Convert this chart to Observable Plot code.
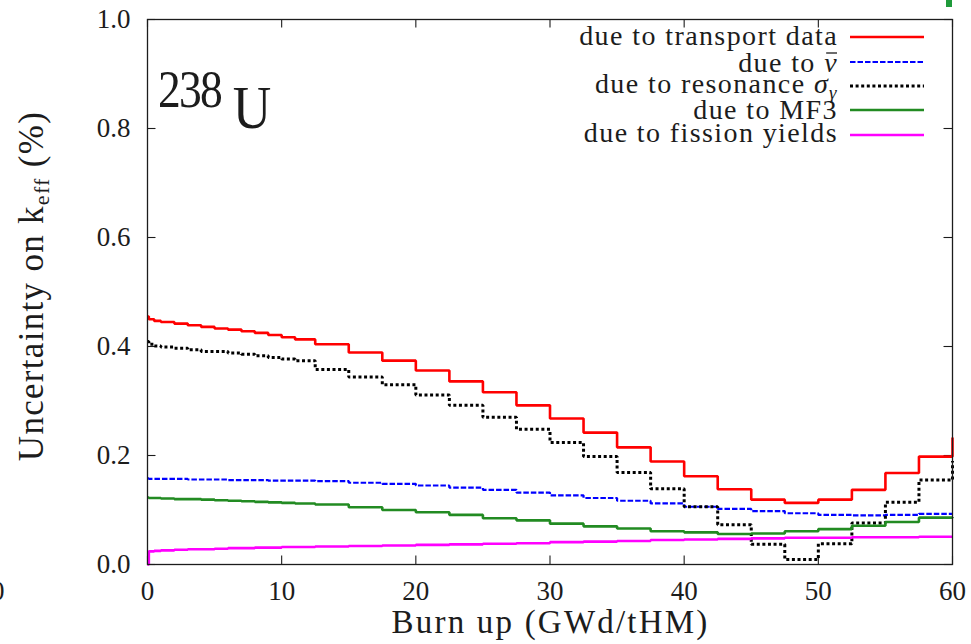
<!DOCTYPE html>
<html>
<head>
<meta charset="utf-8">
<script src="https://cdn.jsdelivr.net/npm/d3@7"></script>
<script src="https://cdn.jsdelivr.net/npm/@observablehq/plot@0.6"></script>
<style>
  body { margin: 0; background: #fff; }
  #chart { width: 971px; height: 644px; overflow: hidden; }
</style>
</head>
<body>
<div id="chart"></div>
<script>
// Burn-up grid (GWd/tHM) and k_eff uncertainty (%) per contribution, 238U
const burnup = [0, 0.1, 0.5, 1, 2, 3, 4, 5, 6, 7, 8, 9, 10, 11, 12.5, 15, 17.5, 20, 22.5, 25, 27.5, 30, 32.5, 35, 37.5, 40, 42.5, 45, 47.5, 50, 52.5, 55, 57.5, 60];

const transportData = [0.455, 0.450, 0.447, 0.445, 0.442, 0.439, 0.436, 0.433, 0.431, 0.428, 0.425, 0.421, 0.417, 0.413, 0.404, 0.389, 0.374, 0.356, 0.336, 0.316, 0.292, 0.268, 0.242, 0.215, 0.189, 0.162, 0.138, 0.119, 0.113, 0.119, 0.137, 0.168, 0.198, 0.233];
const nuBar = [0.158, 0.157, 0.157, 0.157, 0.157, 0.156, 0.156, 0.156, 0.155, 0.155, 0.155, 0.154, 0.154, 0.154, 0.153, 0.150, 0.148, 0.145, 0.141, 0.137, 0.132, 0.127, 0.122, 0.117, 0.112, 0.106, 0.102, 0.098, 0.094, 0.091, 0.090, 0.091, 0.093, 0.093];
const resonanceCapture = [0.409, 0.404, 0.401, 0.399, 0.397, 0.394, 0.391, 0.391, 0.388, 0.386, 0.383, 0.380, 0.377, 0.374, 0.358, 0.344, 0.330, 0.311, 0.292, 0.270, 0.248, 0.224, 0.198, 0.169, 0.139, 0.106, 0.073, 0.037, 0.009, 0.038, 0.076, 0.114, 0.155, 0.190];
const mf3 = [0.123, 0.122, 0.122, 0.121, 0.120, 0.120, 0.119, 0.118, 0.117, 0.116, 0.115, 0.114, 0.113, 0.112, 0.110, 0.105, 0.100, 0.096, 0.091, 0.085, 0.081, 0.075, 0.070, 0.066, 0.061, 0.059, 0.056, 0.057, 0.061, 0.065, 0.071, 0.078, 0.086, 0.087];
const fissionYields = [0.0, 0.024, 0.025, 0.026, 0.027, 0.028, 0.028, 0.029, 0.030, 0.030, 0.031, 0.031, 0.032, 0.032, 0.033, 0.034, 0.035, 0.036, 0.037, 0.038, 0.039, 0.041, 0.042, 0.043, 0.045, 0.046, 0.047, 0.048, 0.049, 0.049, 0.050, 0.050, 0.051, 0.051];

const xTicks = [0, 10, 20, 30, 40, 50, 60];
const yTicks = [0, 0.2, 0.4, 0.6, 0.8, 1.0];

const xLabel = "Burn up (GWd/tHM)";
const nuclideMass = "238";
const nuclideSymbol = "U";

// Series in drawing order (later ones on top)
const series = [
  {values: transportData,     color: "#ff0000", dash: null,      width: 2.6},
  {values: nuBar,             color: "#0000ff", dash: "5.5 2",   width: 2.2},
  {values: resonanceCapture,  color: "#000000", dash: "3 2.6",   width: 3},
  {values: mf3,               color: "#228b22", dash: null,      width: 2.6},
  {values: fissionYields,     color: "#ff00ff", dash: null,      width: 2.6}
];

// Layout
const W = 971, H = 644;
const mL = 147, mR = 19, mT = 19, mB = 80;
const innerW = W - mL - mR, innerH = H - mT - mB;
const TICK = 8.5;
const ink = "#1c1c1c";
const serif = "'Liberation Serif', 'Times New Roman', serif";

const rows = burnup.map((b, i) => {
  const r = {burnup: b};
  series.forEach((s, k) => { r["s" + k] = s.values[i]; });
  return r;
});

const plot = Plot.plot({
  width: W,
  height: H,
  marginLeft: mL, marginRight: mR, marginTop: mT, marginBottom: mB,
  style: {fontFamily: serif, fontSize: "27px", color: ink, background: "#fff"},
  x: {domain: [0, 60]},
  y: {domain: [0, 1]},
  marks: [
    // inward ticks on all four sides
    Plot.ruleX(xTicks, {x: d => d, insetTop: innerH - TICK, stroke: ink, strokeWidth: 1.1}),
    Plot.ruleX(xTicks, {x: d => d, insetBottom: innerH - TICK, stroke: ink, strokeWidth: 1.1}),
    Plot.ruleY(yTicks, {y: d => d, insetRight: innerW - TICK, stroke: ink, strokeWidth: 1.1}),
    Plot.ruleY(yTicks, {y: d => d, insetLeft: innerW - TICK, stroke: ink, strokeWidth: 1.1}),
    ...series.map((s, k) => Plot.lineY(rows, {
      x: "burnup",
      y: "s" + k,
      curve: "step-after",
      stroke: s.color,
      strokeWidth: s.width,
      strokeDasharray: s.dash,
      strokeLinecap: "butt",
      strokeLinejoin: "miter"
    })),
    Plot.frame({stroke: ink, strokeWidth: 1.3}),
    Plot.axisX({ticks: xTicks, tickSize: 0, tickPadding: 16, label: null, tickFormat: d => String(d)}),
    Plot.axisY({ticks: yTicks, tickSize: 0, tickPadding: 17, label: null, tickFormat: d3.format(".1f")})
  ]
});

document.getElementById("chart").appendChild(plot);

// Titles, annotation and key, drawn with tspans for sub/superscripts
const svg = d3.select(plot);
const ann = svg.append("g")
  .attr("fill", ink)
  .attr("text-anchor", "start")
  .style("font-family", serif);

// y-axis title
const yt = ann.append("text")
  .attr("transform", "translate(43,286) rotate(-90)")
  .attr("text-anchor", "middle")
  .style("font-size", "35px")
  .style("letter-spacing", "1.3px");
yt.append("tspan").text("Uncertainty on k");
yt.append("tspan").text("eff").attr("dy", 6).style("font-size", "22px");
yt.append("tspan").text(" (%)").attr("dy", -6);

// x-axis title
ann.append("text")
  .attr("x", mL + innerW / 2 + 1)
  .attr("y", 633)
  .attr("text-anchor", "middle")
  .style("font-size", "33px")
  .style("letter-spacing", "2.2px")
  .text(xLabel);

// nuclide annotation
const nuc = ann.append("g").attr("transform", "translate(158,107) scale(0.86,1)");
nuc.append("text").attr("x", 0).attr("y", 0).style("font-size", "53px").style("letter-spacing", "-2px").text(nuclideMass);
nuc.append("text").attr("x", 87).attr("y", 21).style("font-size", "62px").text(nuclideSymbol);

// key
const keyLineY = [37, 62, 86, 110, 135];
const keyTextY = [45, 72, 93, 119, 142];
const keyLabels = [
  [["due to transport data"]],
  [["due to "], ["\u03BD", "bar"]],
  [["due to resonance "], ["\u03C3", "italic"], ["\u03B3", "sub"]],
  [["due to MF3"]],
  [["due to fission yields"]]
];
series.forEach((s, i) => {
  ann.append("line")
    .attr("x1", 850).attr("x2", 924)
    .attr("y1", keyLineY[i]).attr("y2", keyLineY[i])
    .attr("stroke", s.color)
    .attr("stroke-width", s.width)
    .attr("stroke-dasharray", s.dash);
  const t = ann.append("text")
    .attr("x", 838).attr("y", keyTextY[i])
    .attr("text-anchor", "end")
    .style("font-size", "28px")
    .style("letter-spacing", "1.4px");
  let barIndex = -1, pos = 0;
  keyLabels[i].forEach(([txt, kind]) => {
    const ts = t.append("tspan").text(txt);
    if (kind === "italic" || kind === "bar") ts.style("font-style", "italic");
    if (kind === "bar") barIndex = pos;
    if (kind === "sub") ts.style("font-style", "italic").style("font-size", "19px").attr("dy", 6);
    pos += txt.length;
  });
  // overline above the nu
  if (barIndex >= 0) {
    const box = t.node().getExtentOfChar(barIndex);
    ann.append("line")
      .attr("x1", box.x + 2).attr("x2", box.x + box.width - 1)
      .attr("y1", keyTextY[i] - 19).attr("y2", keyTextY[i] - 19)
      .attr("stroke", ink).attr("stroke-width", 1.3);
  }
});

// edge marks
ann.append("text").attr("x", -9).attr("y", 600).style("font-size", "27px").text("0");
ann.append("rect").attr("x", 946).attr("y", 0).attr("width", 6).attr("height", 7).attr("fill", "#1f9a3a");
</script>
</body>
</html>
